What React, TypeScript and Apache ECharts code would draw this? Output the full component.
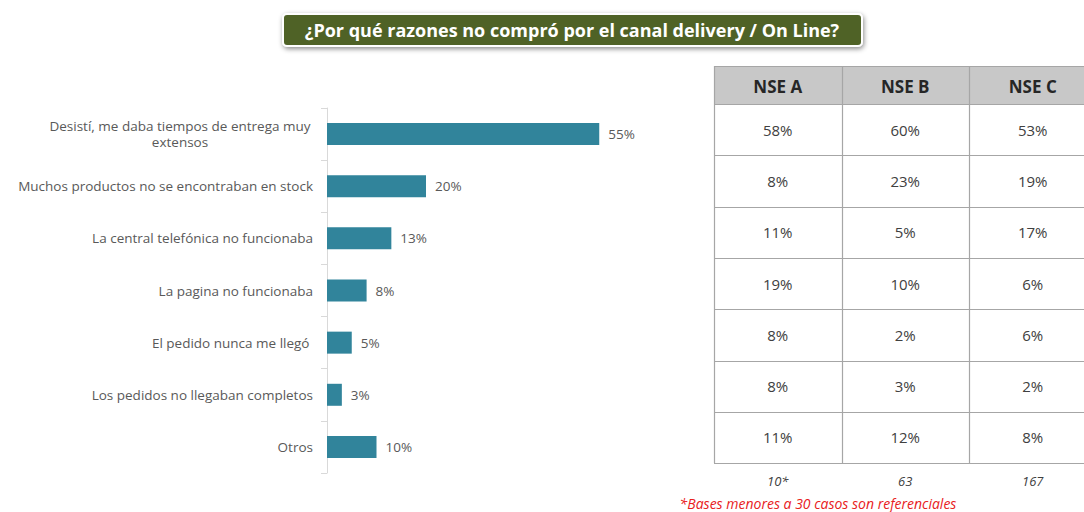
import React, { useEffect, useRef } from "react";
import * as echarts from "echarts";

const title = "¿Por qué razones no compró por el canal delivery / On Line?";
const categories = [
  "Desistí, me daba tiempos de entrega muy\nextensos",
  "Muchos productos no se encontraban en stock",
  "La central telefónica no funcionaba",
  "La pagina no funcionaba",
  "El pedido nunca me llegó ",
  "Los pedidos no llegaban completos",
  "Otros",
];
const totalValues = [55, 20, 13, 8, 5, 3, 10];
const tableHeaders = ["NSE A", "NSE B", "NSE C"];
const nseA = ["58%", "8%", "11%", "19%", "8%", "8%", "11%"];
const nseB = ["60%", "23%", "5%", "10%", "2%", "3%", "12%"];
const nseC = ["53%", "19%", "17%", "6%", "6%", "2%", "8%"];
const bases = ["10*", "63", "167"];
const footnote = "*Bases menores a 30 casos son referenciales";

const FONT = "'Open Sans', 'Noto Sans', sans-serif";

export default function App() {
  const ref = useRef<HTMLDivElement>(null);
  useEffect(() => {
    if (!ref.current) return;
    const chart = echarts.init(ref.current, null, { renderer: "svg" });

    // table layout
    const tx = 714;
    const colW = 127.5;
    const headTop = 66;
    const headH = 38;
    const rowH = 51.3;
    const cols = [nseA, nseB, nseC];
    const nRows = nseA.length;
    const tableBottom = headTop + headH + rowH * nRows;
    const tableRight = tx + colW * 3;

    const g: any[] = [];
    g.push({
      type: "rect",
      shape: { x: tx, y: headTop, width: colW * 3, height: headH },
      style: { fill: "#c8c8c8" },
    });
    const hl = [headTop, headTop + headH];
    for (let i = 1; i <= nRows; i++) hl.push(headTop + headH + rowH * i);
    hl.forEach((y) =>
      g.push({
        type: "line",
        shape: { x1: tx, y1: Math.round(y) + 0.5, x2: tableRight, y2: Math.round(y) + 0.5 },
        style: { stroke: "#a6a6a6", lineWidth: 1.2 },
      })
    );
    for (let c = 0; c <= 3; c++) {
      const x = Math.round(tx + colW * c) + 0.5;
      g.push({
        type: "line",
        shape: { x1: x, y1: headTop, x2: x, y2: tableBottom },
        style: { stroke: "#a6a6a6", lineWidth: 1.2 },
      });
    }
    tableHeaders.forEach((h, c) => {
      g.push({
        type: "text",
        x: tx + colW * c + colW / 2,
        y: headTop + headH / 2 + 1,
        style: {
          text: h,
          fill: "#262626",
          font: `bold 17px ${FONT}`,
          textAlign: "center",
          textVerticalAlign: "middle",
        },
      });
    });
    cols.forEach((col, c) => {
      col.forEach((v, r) => {
        g.push({
          type: "text",
          x: tx + colW * c + colW / 2,
          y: headTop + headH + rowH * r + rowH / 2,
          style: {
            text: v,
            fill: "#404040",
            font: `15px ${FONT}`,
            textAlign: "center",
            textVerticalAlign: "middle",
          },
        });
      });
    });
    bases.forEach((b, c) => {
      g.push({
        type: "text",
        x: tx + colW * c + colW / 2,
        y: 481,
        style: {
          text: b,
          fill: "#404040",
          font: `italic 13px ${FONT}`,
          textAlign: "center",
          textVerticalAlign: "middle",
        },
      });
    });
    g.push({
      type: "text",
      x: 818,
      y: 503,
      style: {
        text: footnote,
        fill: "#e8201c",
        font: `italic 14px ${FONT}`,
        textAlign: "center",
        textVerticalAlign: "middle",
      },
    });
    g.push({
      type: "rect",
      shape: { x: 283, y: 14, width: 579, height: 32, r: 4 },
      style: {
        fill: "#4f6228",
        stroke: "#ffffff",
        lineWidth: 2,
        shadowBlur: 5,
        shadowColor: "rgba(0,0,0,0.45)",
        shadowOffsetX: 1,
        shadowOffsetY: 2,
      },
    });
    g.push({
      type: "text",
      x: 572,
      y: 30,
      style: {
        text: title,
        fill: "#ffffff",
        font: `bold 18px ${FONT}`,
        textAlign: "center",
        textVerticalAlign: "middle",
      },
    });

    chart.setOption({
      animation: false,
      grid: { left: 327, top: 108, width: 297, height: 365, containLabel: false },
      xAxis: {
        type: "value",
        min: 0,
        max: 60,
        show: false,
        splitLine: { show: false },
      },
      yAxis: {
        type: "category",
        data: categories,
        inverse: true,
        axisLine: { show: true, lineStyle: { color: "#d9d9d9", width: 1 } },
        axisTick: { show: true, length: 6, lineStyle: { color: "#d9d9d9" } },
        axisLabel: {
          margin: 14,
          color: "#595959",
          fontFamily: FONT,
          fontSize: 13.5,
          lineHeight: 16,
          formatter: (v: string) => {
            if (v.indexOf("\n") >= 0) {
              return v
                .split("\n")
                .map((s) => `{w|${s}}`)
                .join("\n");
            }
            return v;
          },
          rich: {
            w: {
              width: 266,
              align: "center",
              color: "#595959",
              fontFamily: FONT,
              fontSize: 13.5,
              lineHeight: 16,
            },
          },
        },
      },
      series: [
        {
          type: "bar",
          data: totalValues,
          barWidth: 22,
          itemStyle: { color: "#31849b" },
          label: {
            show: true,
            position: "right",
            distance: 9,
            formatter: "{c}%",
            color: "#595959",
            fontFamily: FONT,
            fontSize: 13.5,
          },
        },
      ],
      graphic: g,
    });
    return () => chart.dispose();
  }, []);
  return (
    <div
      ref={ref}
      style={{ position: "fixed", left: 0, top: 0, width: 1084, height: 512, background: "#fff" }}
    />
  );
}
